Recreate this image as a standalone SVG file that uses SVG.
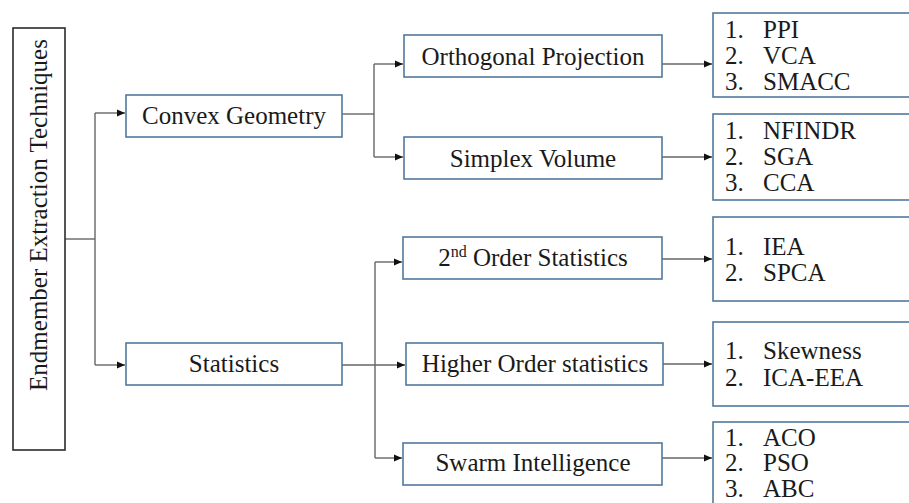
<svg xmlns="http://www.w3.org/2000/svg" width="909" height="503" viewBox="0 0 909 503">
<style>
.box{fill:#fff;stroke:#52799d;stroke-width:1.6}
.root{fill:#fff;stroke:#2b2b2b;stroke-width:1.6}
text{font-size:25px;fill:#1a1a1a}
.c{text-anchor:middle}
.con{fill:none;stroke:#666;stroke-width:1.4}
</style>
<defs>
<marker id="ah" markerWidth="9" markerHeight="8" refX="8" refY="4" orient="auto" markerUnits="userSpaceOnUse">
<path d="M0,0.5 L8,4 L0,7.5 Z" fill="#111"/>
</marker>
</defs>
<rect width="909" height="503" fill="#fff"/>

<g id="connectors">
<path class="con" d="M65,239 H95"/>
<path class="con" d="M95,113 V365"/>
<path class="con" d="M95,113 H125" marker-end="url(#ah)"/>
<path class="con" d="M95,365 H125" marker-end="url(#ah)"/>
<path class="con" d="M342,114 H374"/>
<path class="con" d="M374,64 V157"/>
<path class="con" d="M374,64 H403" marker-end="url(#ah)"/>
<path class="con" d="M374,157 H403" marker-end="url(#ah)"/>
<path class="con" d="M342,365 H405" marker-end="url(#ah)"/>
<path class="con" d="M375,262 V458"/>
<path class="con" d="M375,262 H402" marker-end="url(#ah)"/>
<path class="con" d="M375,458 H402" marker-end="url(#ah)"/>
<path class="con" d="M662,64 H712" marker-end="url(#ah)"/>
<path class="con" d="M662,157 H712" marker-end="url(#ah)"/>
<path class="con" d="M662,259 H712" marker-end="url(#ah)"/>
<path class="con" d="M663,364 H712" marker-end="url(#ah)"/>
<path class="con" d="M662,458 H712" marker-end="url(#ah)"/>
</g>

<g font-family="Liberation Serif, Times New Roman, Tinos, serif">
<g id="root">
<rect class="root" x="13" y="28" width="52" height="422"/>
<text class="c" transform="translate(47,215) rotate(-90)">Endmember Extraction Techniques</text>
</g>

<g id="convex">
<rect class="box" x="126" y="95" width="216" height="42"/>
<text class="c" x="234" y="124">Convex Geometry</text>
</g>
<g id="statistics">
<rect class="box" x="126" y="343" width="216" height="42"/>
<text class="c" x="234" y="372">Statistics</text>
</g>

<g id="orthogonal">
<rect class="box" x="404" y="35" width="258" height="42"/>
<text class="c" x="533" y="65">Orthogonal Projection</text>
</g>
<g id="simplex">
<rect class="box" x="404" y="137" width="258" height="42"/>
<text class="c" x="533" y="167">Simplex Volume</text>
</g>
<g id="second">
<rect class="box" x="403" y="237" width="259" height="42"/>
<text class="c" x="533" y="266">2<tspan font-size="16" dy="-9">nd</tspan><tspan dy="9"> Order Statistics</tspan></text>
</g>
<g id="higher">
<rect class="box" x="406" y="343" width="257" height="42"/>
<text class="c" x="535" y="372">Higher Order statistics</text>
</g>
<g id="swarm">
<rect class="box" x="403" y="443" width="259" height="42"/>
<text class="c" x="533" y="471">Swarm Intelligence</text>
</g>

<g id="list-op">
<rect class="box" x="713" y="13" width="210" height="84"/>
<text x="725" y="38">1.</text><text x="763" y="38">PPI</text>
<text x="725" y="64">2.</text><text x="763" y="64">VCA</text>
<text x="725" y="90">3.</text><text x="763" y="90">SMACC</text>
</g>
<g id="list-sv">
<rect class="box" x="713" y="114" width="210" height="86"/>
<text x="725" y="139">1.</text><text x="763" y="139">NFINDR</text>
<text x="725" y="165">2.</text><text x="763" y="165">SGA</text>
<text x="725" y="191">3.</text><text x="763" y="191">CCA</text>
</g>
<g id="list-2nd">
<rect class="box" x="713" y="217" width="210" height="84"/>
<text x="725" y="255">1.</text><text x="763" y="255">IEA</text>
<text x="725" y="281">2.</text><text x="763" y="281">SPCA</text>
</g>
<g id="list-ho">
<rect class="box" x="713" y="322" width="210" height="84"/>
<text x="725" y="359">1.</text><text x="763" y="359">Skewness</text>
<text x="725" y="386">2.</text><text x="763" y="386">ICA-EEA</text>
</g>
<g id="list-si">
<rect class="box" x="713" y="422" width="210" height="100"/>
<text x="725" y="446">1.</text><text x="763" y="446">ACO</text>
<text x="725" y="471">2.</text><text x="763" y="471">PSO</text>
<text x="725" y="497">3.</text><text x="763" y="497">ABC</text>
</g>
</g>
</svg>
